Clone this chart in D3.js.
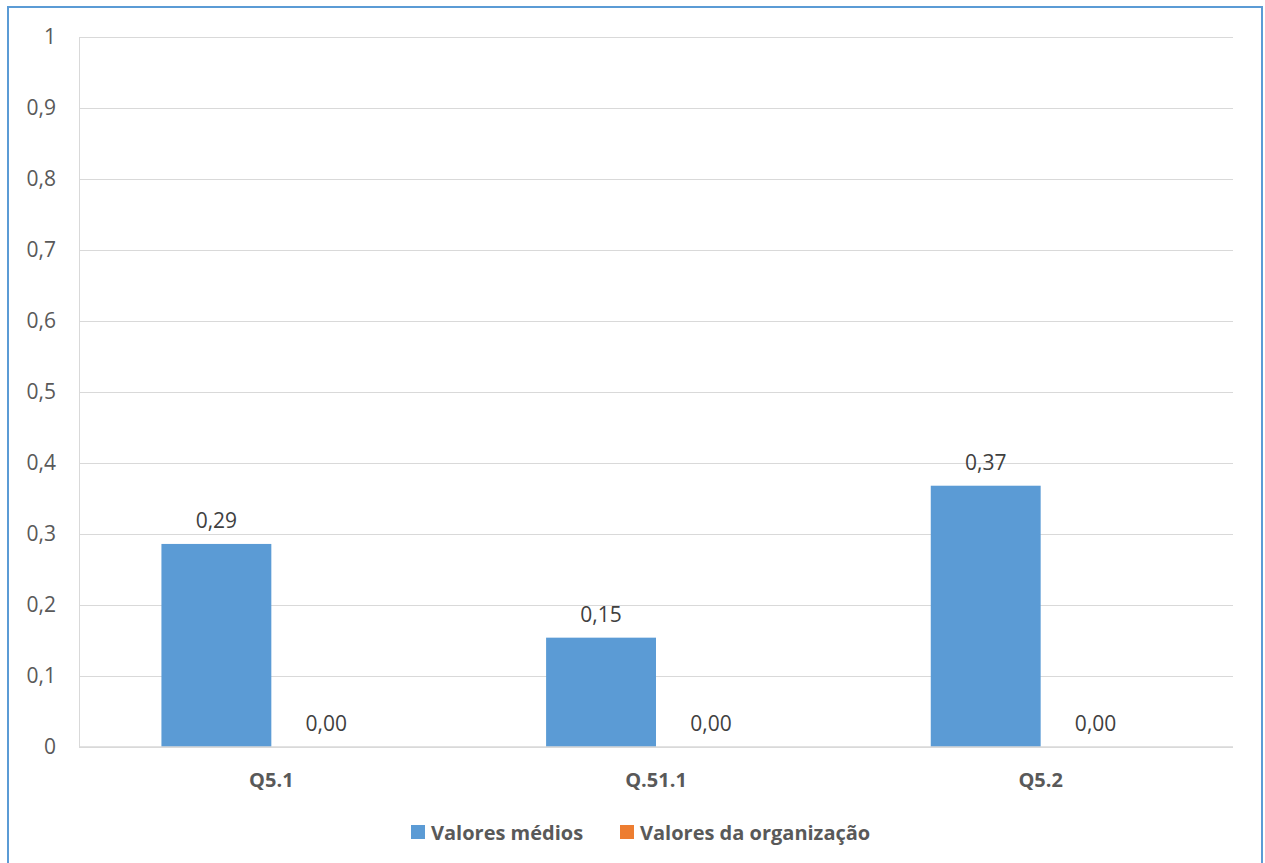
<!DOCTYPE html>
<html>
<head>
<meta charset="utf-8">
<script src="https://cdn.jsdelivr.net/npm/d3@7"></script>
<style>
  body { margin: 0; background: #fff; }
  svg { display: block; font-family: "Open Sans", sans-serif; }
</style>
</head>
<body>
<div class="chart"></div>
<script>
var categories = ['Q5.1', 'Q.51.1', 'Q5.2'];
var seriesNames = ['Valores médios', 'Valores da organização'];
var seriesColors = ['#5b9bd5', '#ed7d31'];
var mediaValues = [0.286, 0.154, 0.368];
var orgValues = [0, 0, 0];
var yTicks = [0, 0.1, 0.2, 0.3, 0.4, 0.5, 0.6, 0.7, 0.8, 0.9, 1];

draw();

function draw() {
    var width = 1265;
    var height = 863;
    var left = 79, right = 1233, top = 37, bottom = 747;
    var textColor = '#595959';
    var fmt = function (v) { return d3.format('.2f')(v).replace('.', ','); };
    var tickFmt = function (v) { return String(+v.toFixed(1)).replace('.', ','); };

    var svg = d3.select('.chart')
        .append('svg')
        .attr('width', width)
        .attr('height', height);

    // outer frame
    svg.append('rect')
        .attr('x', 8).attr('y', 7)
        .attr('width', 1254).attr('height', 880)
        .attr('fill', 'none')
        .attr('stroke', '#5b9bd5')
        .attr('stroke-width', 2);

    var y = d3.scaleLinear().domain([0, 1]).range([bottom, top]);

    var gap = 0.75 / 1.75;
    var x0 = d3.scaleBand()
        .domain(categories)
        .range([left, right])
        .paddingInner(gap)
        .paddingOuter(gap / 2);

    var x1 = d3.scaleBand()
        .domain(seriesNames)
        .range([0, x0.bandwidth()]);

    // gridlines + y labels
    var yAxis = d3.axisLeft(y)
        .tickValues(yTicks)
        .tickSize(-(right - left))
        .tickPadding(23)
        .tickFormat(tickFmt);

    var gy = svg.append('g')
        .attr('transform', 'translate(' + left + ',0)')
        .call(yAxis);
    gy.select('.domain').attr('stroke', '#d9d9d9');
    gy.selectAll('.tick line').attr('stroke', '#d9d9d9');
    gy.selectAll('.tick text')
        .attr('fill', textColor)
        .style('font-size', '21px')
        .style('font-family', '"Open Sans", sans-serif');

    // bars
    var table = categories.map(function (c, i) {
        return { cat: c, values: [mediaValues[i], orgValues[i]] };
    });

    var groups = svg.selectAll('g.group')
        .data(table)
        .enter()
        .append('g')
        .attr('class', 'group')
        .attr('transform', function (d) {
            return 'translate(' + x0(d.cat) + ',0)';
        });

    groups.selectAll('rect')
        .data(function (d) {
            return d.values.map(function (v, j) { return { name: seriesNames[j], value: v, color: seriesColors[j] }; });
        })
        .enter()
        .append('rect')
        .attr('x', function (d) { return x1(d.name); })
        .attr('y', function (d) { return y(d.value); })
        .attr('width', x1.bandwidth())
        .attr('height', function (d) { return y(0) - y(d.value); })
        .attr('fill', function (d) { return d.color; });

    groups.selectAll('text')
        .data(function (d) {
            return d.values.map(function (v, j) { return { name: seriesNames[j], value: v }; });
        })
        .enter()
        .append('text')
        .attr('x', function (d) { return x1(d.name) + x1.bandwidth() / 2; })
        .attr('y', function (d) { return y(d.value) - 16; })
        .attr('text-anchor', 'middle')
        .attr('fill', '#404040')
        .style('font-size', '21px')
        .text(function (d) { return fmt(d.value); });

    // x axis
    var xAxis = d3.axisBottom(x0).tickSize(0).tickPadding(26);
    var gx = svg.append('g')
        .attr('transform', 'translate(0,' + bottom + ')')
        .call(xAxis);
    gx.select('.domain').attr('stroke', '#d9d9d9').attr('stroke-width', 1.5)
        .attr('d', 'M' + left + ',0H' + right);
    gx.selectAll('.tick text')
        .attr('fill', textColor)
        .style('font-size', '20px')
        .style('font-weight', 'bold')
        .style('font-family', '"Open Sans", sans-serif');

    // legend
    var legendX = [411, 620];
    var legend = svg.selectAll('g.legend')
        .data(seriesNames)
        .enter()
        .append('g')
        .attr('class', 'legend')
        .attr('transform', function (d, i) { return 'translate(' + legendX[i] + ',825)'; });

    legend.append('rect')
        .attr('width', 14).attr('height', 14)
        .attr('fill', function (d, i) { return seriesColors[i]; });

    legend.append('text')
        .attr('x', 20)
        .attr('y', 15)
        .attr('fill', textColor)
        .style('font-size', '20px')
        .style('font-weight', 'bold')
        .text(function (d) { return d; });
}
</script>
</body>
</html>
